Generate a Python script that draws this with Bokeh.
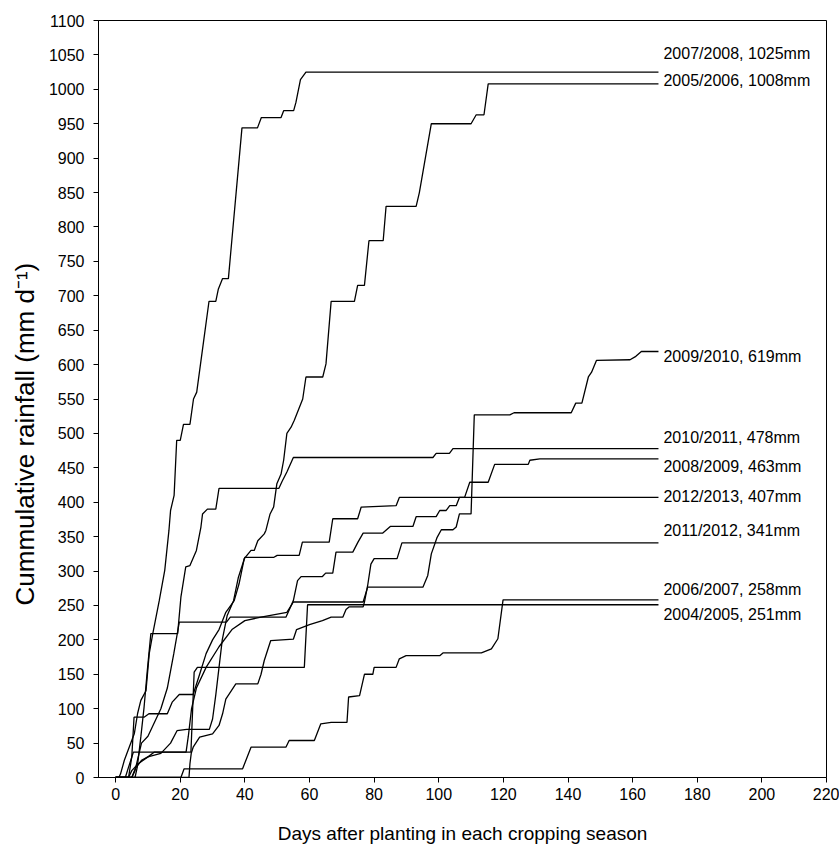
from bokeh.plotting import figure
from bokeh.models import Range1d, FixedTicker, Title
from bokeh.core.properties import value
from bokeh.embed import file_html
from bokeh.resources import INLINE

# ---------------- data (days after planting, cumulative rainfall mm) ----------------
day_2007_2008 = [0, 1, 1.5, 2.7, 4.2, 5.8, 6.8, 7.8, 9.4, 10.4, 11.5, 13.5, 15.2, 16.5, 17, 18.1, 18.9, 20, 21, 23,
                 24.1, 25.1, 27.2, 28.9, 31, 31.8, 33.1, 34.9, 39.1, 43.9, 45.1, 51.2, 52, 55.1, 55.8, 57.2, 58.9, 168]
rain_2007_2008 = [0, 0, 5, 25, 44, 64, 93, 112, 126, 180, 209, 257, 301, 359, 388, 410, 490, 490, 513, 513,
                  550, 560, 633, 692, 692, 710, 725, 725, 944, 944, 959, 959, 969, 969, 981, 1014, 1025, 1025]

day_2005_2006 = [0, 4, 5, 5.7, 8.8, 10.3, 16, 17.5, 19.7, 24, 26, 28, 30, 32, 33.1, 34.1, 36.7, 38.2, 39.8, 41.9,
                 42.9, 44, 46, 46.5, 47.8, 48.9, 49.9, 51.2, 52, 53, 54.3, 55.3, 57.9, 58.9, 64.1, 65.1, 66.7,
                 73.9, 74.9, 77, 78.4, 82.8, 83.7, 93, 94, 97.7, 110, 111.6, 114, 115.3, 168]
rain_2005_2006 = [0, 0, 30, 87.6, 87.6, 92.6, 92.6, 109.5, 120.6, 120.6, 150, 180, 200, 215, 228, 240, 257, 281.5, 318, 330,
                  330, 344, 354, 359, 383, 393, 427, 441, 461, 500, 509, 519, 550, 582, 582, 601, 692,
                  692, 715, 715, 780, 780, 830, 830, 850, 950, 950, 963, 963, 1008, 1008]

day_2009_2010 = [0, 5, 6, 8, 10, 12, 21.8, 22.5, 23.5, 25, 28, 32, 36, 40, 45, 53, 55, 76.6, 78, 95.1, 96.6, 97.7,
                 99.5, 100.8, 104.4, 105.4, 106.4, 110, 111, 122, 123.3, 141, 142.4, 144.3, 146.3, 147.3, 148.8,
                 159.2, 161, 162.7, 168]
rain_2009_2010 = [0, 0, 12, 25, 30, 37, 37, 60, 100, 130, 160, 190, 215, 228, 233, 240, 255, 255, 276.6, 276.6, 293.6, 325,
                  349, 360, 360, 364, 383, 383, 527, 527, 530, 530, 544, 544, 582, 589, 606,
                  607, 612, 619, 619]

day_2010_2011 = [0, 6, 6.7, 7.8, 8.8, 9.8, 10.9, 19.2, 20.2, 21.7, 23, 25, 26.4, 26.9, 28.4, 31, 32, 50.5, 51.5, 53,
                 55, 98.2, 99.2, 103.3, 104.4, 168]
rain_2010_2011 = [0, 0, 15, 59, 102, 155, 209, 209, 262, 306, 308, 330, 364, 383, 390, 390, 420, 420, 430, 444,
                  465, 465, 471, 471, 478, 478]

day_2008_2009 = [0, 5, 6, 7, 8, 10, 12, 14, 16, 18, 19.7, 34.3, 35.5, 52.7, 55, 56.3, 57.4, 64, 65, 67.2, 68.2, 73.4,
                 75, 76.6, 82.6, 85, 92, 93, 99.2, 100.3, 102.3, 103.4, 105.4, 106.4, 108, 109.6, 115.3, 117.3,
                 127.7, 128.2, 131.3, 168]
rain_2008_2009 = [0, 0, 10, 30, 50, 60, 80, 100, 130, 180, 225.7, 225.7, 233, 233, 257, 286, 292, 292, 297, 297, 327.5, 327.5,
                  342, 355, 355, 364.8, 364.8, 379, 379, 388, 388, 395, 395, 407, 407, 429, 429, 455,
                  455, 461, 463, 463]

day_2012_2013 = [0, 4, 5, 7, 10, 14, 17, 19, 22, 29, 30, 31, 32, 33, 34.5, 36.5, 38, 40, 49, 50, 56.8, 57.8, 66.1,
                 67.2, 74.9, 76, 86.8, 87.8, 168]
rain_2012_2013 = [0, 0, 10, 20, 30, 35, 50, 68, 70, 70, 85, 120, 160, 200, 235, 257, 291, 320, 320, 322.7, 322.7, 342, 342,
                  376, 376, 393, 395, 407, 407]

day_2011_2012 = [0, 22.7, 23, 23.4, 24, 26, 30, 32, 33.1, 34.1, 37.2, 44, 45, 46, 48, 55, 56, 60, 64, 66.7, 70.3,
                 71.3, 72.3, 76.6, 77, 78, 79, 80, 87.1, 88.6, 168]
rain_2011_2012 = [0, 0, 20, 35, 44, 58.6, 63.5, 75.6, 92.6, 114, 136, 136, 150, 170, 199, 201, 215, 222, 228, 233, 233,
                  244, 248, 248, 255, 279, 310, 318, 318, 341, 341]

day_2006_2007 = [0, 20.2, 21.2, 39.3, 41.9, 52.7, 53.7, 61.5, 63.5, 66.7, 71.6, 72.1, 75.5, 77, 79.6, 80, 86.8, 87.8,
                 89.9, 100.3, 101.3, 113.2, 116.3, 118.3, 119.9, 168]
rain_2006_2007 = [0, 0, 12.6, 12.6, 44, 44, 53.8, 53.8, 78, 80, 80, 117, 119, 150, 150, 160, 160, 172.5,
                  177, 177, 181, 181, 187, 201.6, 258, 258]

day_2004_2005 = [0, 3, 4, 5.5, 23.3, 24.3, 25.3, 58.4, 59.4, 168]
rain_2004_2005 = [0, 0, 15, 36.8, 36.8, 153, 160, 160, 251, 251]

season_names = ["2007/2008", "2005/2006", "2009/2010", "2010/2011", "2008/2009",
                "2012/2013", "2011/2012", "2006/2007", "2004/2005"]
season_totals = [1025, 1008, 619, 478, 463, 407, 341, 258, 251]

x_ticks = list(range(0, 221, 20))
y_ticks = list(range(0, 1101, 50))

# ---------------- layout / style (not data) ----------------
label_dy = [-19, -3, 5, -11, 8, -1, -12, -10, 10]   # px offsets of the end labels
FONT = "Liberation Sans"

series = [
    (day_2007_2008, rain_2007_2008),
    (day_2005_2006, rain_2005_2006),
    (day_2009_2010, rain_2009_2010),
    (day_2010_2011, rain_2010_2011),
    (day_2008_2009, rain_2008_2009),
    (day_2012_2013, rain_2012_2013),
    (day_2011_2012, rain_2011_2012),
    (day_2006_2007, rain_2006_2007),
    (day_2004_2005, rain_2004_2005),
]

p = figure(width=839, height=847, output_backend="svg", toolbar_location=None,
           x_range=Range1d(-5.3, 220), y_range=Range1d(0, 1100))
p.min_border_left = 98
p.min_border_right = 13
p.min_border_top = 20
p.min_border_bottom = 70
p.background_fill_color = "white"
p.border_fill_color = "white"
p.outline_line_color = "black"
p.outline_line_width = 1
p.xgrid.visible = False
p.ygrid.visible = False

for ax in (p.xaxis[0], p.yaxis[0]):
    ax.axis_line_color = "black"
    ax.major_tick_line_color = "black"
    ax.major_tick_out = 5
    ax.major_tick_in = 0
    ax.minor_tick_line_color = None
    ax.major_label_text_font = FONT
    ax.major_label_text_font_size = "16px"
    ax.major_label_text_color = "black"

p.xaxis.ticker = FixedTicker(ticks=x_ticks)
p.yaxis.ticker = FixedTicker(ticks=y_ticks)
p.xaxis.major_label_standoff = 5
p.yaxis.major_label_standoff = 9
p.xaxis.axis_label = "Days after planting in each cropping season"
p.xaxis.axis_label_text_font = FONT
p.xaxis.axis_label_text_font_size = "19px"
p.xaxis.axis_label_text_font_style = "normal"
p.xaxis.axis_label_text_color = "black"
p.xaxis.axis_label_standoff = 20

ytitle = Title(text="Cummulative rainfall (mm d\u207b\u00b9)", align="left", offset=172,
               text_font=FONT, text_font_size="26px", text_font_style="normal",
               text_color="black", vertical_align="middle")
p.add_layout(ytitle, "left")

for (xs, ys) in series:
    p.line(xs, ys, line_color="black", line_width=1.3)

last_days = [s[0][-1] for s in series]
label_texts = [f"{n}, {t}mm" for n, t in zip(season_names, season_totals)]
p.text(x=last_days, y=season_totals, text=label_texts, x_offset=5, y_offset=label_dy,
       text_font=value(FONT), text_font_size="16px", text_color="black",
       text_align="left", text_baseline="middle")

open("out.html", "w").write(file_html(p, INLINE))
